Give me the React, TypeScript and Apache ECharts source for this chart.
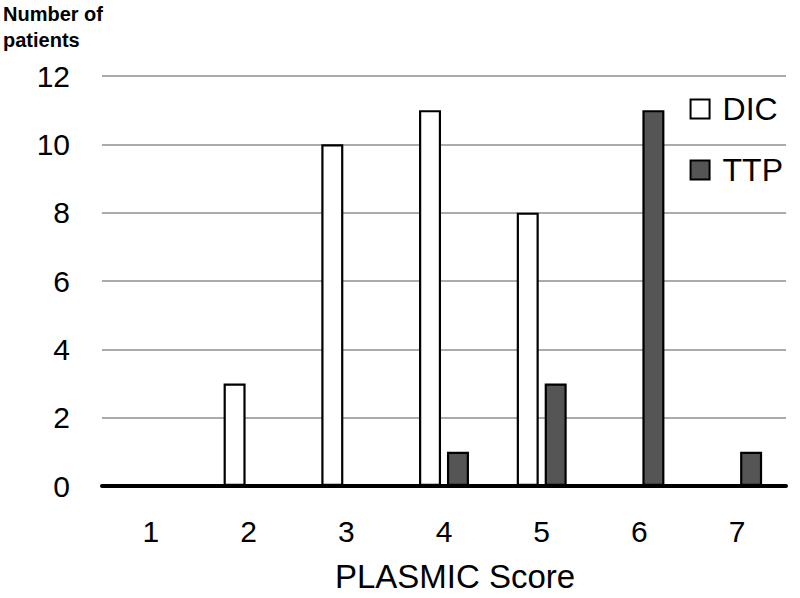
import React, { useEffect, useRef } from "react";
import * as echarts from "echarts";

const categories = ["1", "2", "3", "4", "5", "6", "7"];
const dicValues = [0, 3, 10, 11, 8, 0, 0];
const ttpValues = [0, 0, 0, 1, 3, 11, 1];
const yTicks = [0, 2, 4, 6, 8, 10, 12];

export default function App() {
  const ref = useRef<HTMLDivElement>(null);
  useEffect(() => {
    if (!ref.current) return;
    const chart = echarts.init(ref.current, null, { renderer: "svg" });
    const font = "Liberation Sans, Arial, sans-serif";
    chart.setOption({
      animation: false,
      backgroundColor: "#ffffff",
      textStyle: { fontFamily: font },
      graphic: [
        {
          type: "text",
          left: 3,
          top: 1,
          style: {
            text: "Number of\npatients",
            font: "bold 20px " + font,
            lineHeight: 26,
            fill: "#000",
          },
        },
      ],
      legend: {
        orient: "vertical",
        right: 12,
        top: 88,
        itemGap: 29,
        itemWidth: 19,
        itemHeight: 19,
        icon: "rect",
        textStyle: { fontSize: 32, color: "#000", fontFamily: font, padding: [0, 0, 0, 8] },
        data: ["DIC", "TTP"],
      },
      grid: { left: 102, right: 14, top: 76, bottom: 103 },
      xAxis: {
        type: "category",
        data: categories,
        name: "PLASMIC Score",
        nameLocation: "middle",
        nameGap: 74,
        nameTextStyle: { fontSize: 33, color: "#000", fontFamily: font, padding: [0, 0, 0, 22] },
        axisLine: { lineStyle: { color: "#000", width: 4 } },
        axisTick: { show: false },
        axisLabel: { fontSize: 30, color: "#000", margin: 30, fontFamily: font },
      },
      yAxis: {
        type: "value",
        min: 0,
        max: 12,
        interval: 2,
        axisLine: { show: false },
        axisTick: { show: false },
        axisLabel: {
          fontSize: 30,
          color: "#000",
          margin: 32,
          fontFamily: font,
          formatter: (v: number) => (yTicks.includes(v) ? String(v) : ""),
        },
        splitLine: { lineStyle: { color: "#ababab", width: 1.8 } },
      },
      series: [
        {
          name: "DIC",
          type: "bar",
          data: dicValues.map((v) => (v === 0 ? null : v)),
          barWidth: 22,
          barGap: "27%",
          itemStyle: { color: "#ffffff", borderColor: "#000", borderWidth: 2.2 },
        },
        {
          name: "TTP",
          type: "bar",
          data: ttpValues.map((v) => (v === 0 ? null : v)),
          barWidth: 22,
          barGap: "27%",
          itemStyle: { color: "#555555", borderColor: "#000", borderWidth: 2.2 },
        },
      ],
    });
    return () => chart.dispose();
  }, []);
  return <div ref={ref} style={{ width: 800, height: 598, position: "absolute", left: 0, top: 0 }} />;
}
